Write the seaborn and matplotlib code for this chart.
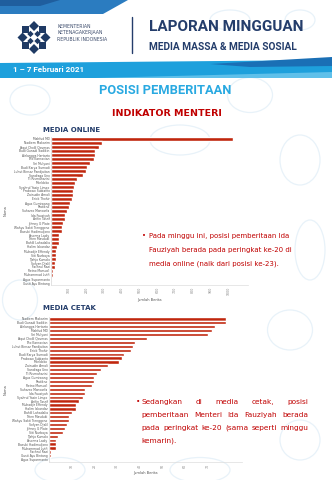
import math
import matplotlib
matplotlib.use('Agg')
import matplotlib.pyplot as plt
import seaborn as sns
import pandas as pd
from matplotlib.patches import Polygon, Ellipse, RegularPolygon

# ---------------- data ----------------
online_names = [
    "Mahfud MD", "Nadiem Makarim", "Yaqut Cholil Qoumas", "Budi Gunadi Sadikin",
    "Airlangga Hartarto", "Tito Karnavian", "Sri Mulyani", "Budi Karya Sumadi",
    "Luhut Binsar Pandjaitan", "Sandiaga Uno", "Tri Rismaharini", "Moeldoko",
    "Syahrul Yasin Limpo", "Prabowo Subianto", "Zainudin Amali", "Erick Thohir",
    "Agus Gumiwang", "Pratikno", "Suharso Monoarfa", "Ida Fauziyah",
    "Arifin Tasrif", "Johnny G Plate", "Wahyu Sakti Trenggono", "Basuki Hadimuljono",
    "Yasonna Laoly", "Teten Masduki", "Bahlil Lahadalia", "Halim Iskandar",
    "Muhadjir Effendy", "Siti Nurbaya", "Tjahjo Kumolo", "Sofyan Djalil",
    "Fachrul Razi", "Retno Marsudi", "Muhammad Lutfi", "Agus Suparmanto",
    "Gusti Ayu Bintang",
]
online_values = [1027, 286, 273, 250, 249, 241, 218, 201, 198, 183, 145, 136,
                 132, 126, 124, 117, 106, 102, 92, 81, 79, 70, 64, 60, 47, 45,
                 43, 36, 30, 28, 27, 24, 24, 13, 11, 4, 2]
online_ticks = [100, 200, 300, 400, 500, 600, 700, 800, 900, 1000]

print_names = [
    "Nadiem Makarim", "Budi Gunadi Sadikin", "Airlangga Hartarto", "Mahfud MD",
    "Sri Mulyani", "Yaqut Cholil Qoumas", "Tito Karnavian", "Luhut Binsar Pandjaitan",
    "Erick Thohir", "Budi Karya Sumadi", "Prabowo Subianto", "Moeldoko",
    "Zainudin Amali", "Sandiaga Uno", "Tri Rismaharini", "Agus Gumiwang",
    "Pratikno", "Retno Marsudi", "Suharso Monoarfa", "Ida Fauziyah",
    "Syahrul Yasin Limpo", "Arifin Tasrif", "Muhadjir Effendy", "Halim Iskandar",
    "Bahlil Lahadalia", "Teten Masduki", "Wahyu Sakti Trenggono", "Sofyan Djalil",
    "Johnny G Plate", "Siti Nurbaya", "Tjahjo Kumolo", "Yasonna Laoly",
    "Basuki Hadimuljono", "Muhammad Lutfi", "Fachrul Razi", "Gusti Ayu Bintang",
    "Agus Suparmanto",
]
print_values = [78, 78, 73, 72, 70, 43, 38, 37, 36, 33, 32, 31, 26, 23, 21, 20,
                20, 19, 16, 16, 15, 13, 12, 12, 10, 9, 9, 8, 7, 6, 4, 3, 3, 3,
                1, 1, 0.3]
print_ticks = [10, 20, 30, 40, 50, 60, 70]

online_text = ["Pada minggu ini, posisi pemberitaan Ida",
               "Fauziyah berada pada peringkat ke-20 di",
               "media online (naik dari posisi ke-23)."]
print_text = ["Sedangkan di media cetak, posisi",
              "pemberitaan Menteri Ida Fauziyah berada",
              "pada peringkat ke-20 (sama seperti minggu",
              "kemarin)."]

# ---------------- style ----------------
sns.set_theme(style='white')
plt.rcParams['font.family'] = ['DejaVu Sans']

BAR = '#C0260D'
NAVY = '#243d6b'
RED = '#c00000'
SKY = '#29a9e1'

W, H = 332, 480
fig = plt.figure(figsize=(3.32, 4.8), dpi=100)
fig.patch.set_facecolor('white')
bg = fig.add_axes([0, 0, 1, 1])
bg.set_xlim(0, W)
bg.set_ylim(H, 0)
bg.axis('off')
renderer = fig.canvas.get_renderer()

# faint background doodles
doodles = [(30, 100, 40, 30), (250, 95, 45, 35), (300, 160, 40, 50), (20, 300, 35, 40),
           (290, 330, 45, 40), (180, 140, 60, 30), (300, 440, 40, 40), (60, 470, 50, 25),
           (200, 470, 60, 25), (310, 250, 30, 60), (230, 20, 40, 20), (300, 20, 30, 20)]
for (cx, cy, w, h) in doodles:
    bg.add_patch(Ellipse((cx, cy), w, h, fill=False, ec='#e8f2f9', lw=0.9))

# header shapes
bg.add_patch(Polygon([(0, 0), (128, 0), (103, 14), (0, 14)], closed=True, fc='#2b7cc0', ec='none'))
bg.add_patch(Polygon([(0, 0), (60, 0), (40, 6), (0, 6)], closed=True, fc='#1f5e9e', ec='none'))
bg.add_patch(Polygon([(0, 63), (332, 60), (332, 78), (0, 78)], closed=True, fc='#1ea0dc', ec='none'))
bg.add_patch(Polygon([(210, 64), (332, 57), (332, 66), (250, 67)], closed=True, fc='#1a6fb5', ec='none'))
bg.add_patch(Polygon([(95, 78), (332, 72), (332, 78)], closed=True, fc='#5fc0ea', ec='none'))

# logo
cx, cy = 34, 37.5
for k in range(8):
    a = math.pi / 4 * k
    bg.add_patch(RegularPolygon((cx + 11.5 * math.cos(a), cy + 11.5 * math.sin(a)), 4, radius=5.0,
                                orientation=a, fc='#1f3a64', ec='none'))
for k in range(4):
    a = math.pi / 2 * k + math.pi / 4
    bg.add_patch(RegularPolygon((cx + 5 * math.cos(a), cy + 5 * math.sin(a)), 4, radius=3.2,
                                orientation=0, fc='#1f3a64', ec='none'))

def fit_text(x, y, s, width, **kw):
    t = bg.text(x, y, s, fontsize=10, **kw)
    w = t.get_window_extent(renderer).width
    t.set_fontsize(10 * width / w)
    return t

for i, s in enumerate(["KEMENTERIAN", "KETENAGAKERJAAN", "REPUBLIK INDONESIA"]):
    bg.text(57, 26 + i * 6.7, s, fontsize=3.3, color='#3c4b6b', va='center', ha='left')

bg.plot([132, 132], [17, 53], color=NAVY, lw=1.0)

hfam = ['Liberation Sans Narrow', 'Roboto', 'DejaVu Sans']
fit_text(149, 27, "LAPORAN MINGGUAN", 153, family=hfam, fontweight='bold', color=NAVY, va='center', ha='left')
fit_text(149, 46.5, "MEDIA MASSA & MEDIA SOSIAL", 149, family=hfam, fontweight='bold', color=NAVY, va='center', ha='left')
fit_text(13, 70, "1 \u2013 7 Februari 2021", 72, family=hfam, fontweight='bold', color='white', va='center', ha='left')

t = fit_text(0, 90, "POSISI PEMBERITAAN", 132, family=hfam, fontweight='bold', color=SKY, va='center', ha='center')
t.set_x(165)
bg.text(167, 114, "INDIKATOR MENTERI", fontsize=6.8, fontweight='bold', color=RED, va='center', ha='center')
bg.text(43, 130, "MEDIA ONLINE", fontsize=5.0, fontweight='bold', color=NAVY, va='center', ha='left')
bg.text(43, 308.5, "MEDIA CETAK", fontsize=5.0, fontweight='bold', color=NAVY, va='center', ha='left')

# ---------------- charts ----------------
def draw_chart(left, top, right, bottom, names, values, ticks, xmax):
    rect = [left / W, 1 - bottom / H, (right - left) / W, (bottom - top) / H]
    ax = fig.add_axes(rect)
    ax.patch.set_alpha(0)
    df = pd.DataFrame({'Nama': names, 'Jumlah Berita': values})
    sns.barplot(data=df, x='Jumlah Berita', y='Nama', orient='h', color=BAR,
                width=0.82, saturation=1, ax=ax)
    ax.set_xlim(0, xmax)
    ax.set_ylim(len(names) - 0.5, -0.5)
    ax.set_xticks(ticks)
    ax.set_xticklabels([str(v) for v in ticks], rotation=90, fontsize=2.3, color='#888888')
    ax.tick_params(axis='y', labelsize=2.2, colors='#555555', length=0, pad=1)
    ax.tick_params(axis='x', length=0, pad=1.5)
    for s in ['top', 'right']:
        ax.spines[s].set_visible(False)
    ax.spines['left'].set_color('#cccccc')
    ax.spines['left'].set_linewidth(0.4)
    ax.spines['bottom'].set_color('#dddddd')
    ax.spines['bottom'].set_linewidth(0.5)
    ax.set_xlabel('Jumlah Berita', fontsize=2.6, color='#555555', labelpad=2)
    ax.set_ylabel('Nama', fontsize=2.6, color='#555555')
    ax.yaxis.set_label_coords((8 - left) / (right - left), 0.5)
    return ax

draw_chart(51, 137, 248, 285, online_names, online_values, online_ticks, 1110)
draw_chart(49, 317, 242, 461.7, print_names, print_values, print_ticks, 85)

# ---------------- text blocks ----------------
tfam = ['DejaVu Sans']

def justified(x0, x1, y, line, **kw):
    words = line.split()
    ts = [bg.text(0, y, w, **kw) for w in words]
    widths = [t.get_window_extent(renderer).width for t in ts]
    gap = (x1 - x0 - sum(widths)) / (len(words) - 1)
    x = x0
    for t, w in zip(ts, widths):
        t.set_x(x)
        x += w + gap

kw = dict(fontsize=5.0, family=tfam, color=RED, va='center', ha='left')
bg.text(142, 236, "\u2022", **kw)
for i, line in enumerate(online_text):
    bg.text(149, 236 + i * 13.8, line, **kw)

kw2 = dict(kw, fontsize=5.3)
bg.text(135.5, 402.3, "\u2022", **kw2)
ys = [402.3, 415.2, 428.2, 441]
for i, line in enumerate(print_text):
    if i < 3:
        justified(141.7, 308.3, ys[i], line, **kw2)
    else:
        bg.text(141.7, ys[i], line, **kw2)

fig.savefig('out.png', dpi=100, facecolor='white')
